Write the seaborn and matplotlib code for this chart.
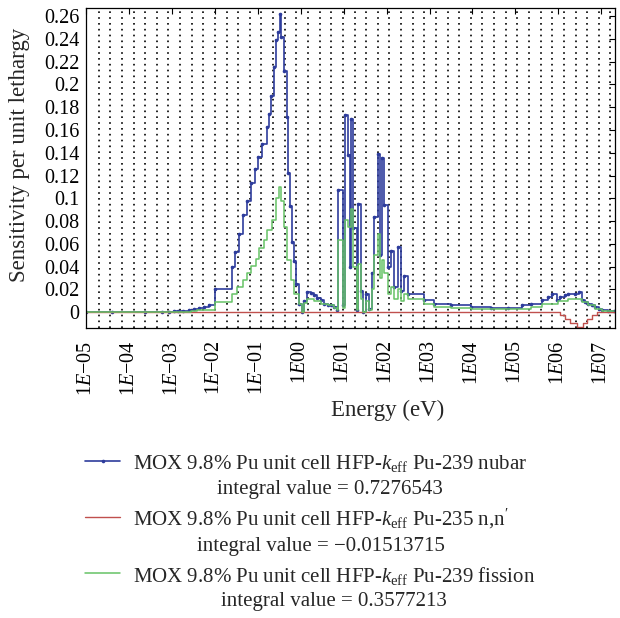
import numpy as np
import matplotlib
matplotlib.use("Agg")
import matplotlib.pyplot as plt
import seaborn as sns
from matplotlib.ticker import FixedLocator, FixedFormatter, NullLocator
from matplotlib.legend_handler import HandlerLine2D

# group lower edges (eV) and sensitivities
nubar_e = [1e-5, 4e-5, 2.4e-4, 5.9e-4, 8.3e-4, 1.1e-3, 1.4e-3, 1.85e-3, 2.5e-3, 3.2e-3,
           4.2e-3, 5.5e-3, 7.2e-3, 1e-2, 0.025, 0.029, 0.036, 0.044, 0.057, 0.068,
           0.084, 0.1, 0.127, 0.16, 0.18, 0.207, 0.24, 0.27, 0.295, 0.323,
           0.354, 0.41, 0.47, 0.50, 0.55, 0.64, 0.70, 0.76, 0.91, 1.05,
           1.17, 1.43, 1.71, 2.04, 2.45, 2.93, 3.5, 4.2, 5.0, 6.0,
           6.9, 7.45, 9.4, 10.8, 12.3, 14.0, 14.7, 16.7, 20.0, 21.8,
           25.1, 27.5, 33.0, 39.5, 44.7, 51.5, 61.7, 71.0, 78.0, 88.0,
           109.0, 126.0, 147.0, 182.0, 217.0, 259.0, 310.0, 760.0, 1280.0, 3200.0,
           9300.0, 27500.0, 67000.0, 1.4e5, 2.35e5, 4.1e5, 5.8e5, 7.3e5, 9.1e5, 1.08e6,
           1.42e6, 1.7e6, 2.4e6, 3.1e6, 3.5e6, 4.2e6, 5.0e6, 6.0e6, 7.1e6, 8.7e6,
           1.02e7, 1.46e7, 2e7]
nubar_v = [0.0, 0.0, 0.0, 0.0003, 0.0005, 0.0008, 0.001, 0.0013, 0.002, 0.0028,
           0.0035, 0.005, 0.0065, 0.0205, 0.040, 0.053, 0.069, 0.085, 0.098, 0.113,
           0.126, 0.136, 0.148, 0.163, 0.174, 0.190, 0.215, 0.239, 0.246, 0.262,
           0.242, 0.212, 0.171, 0.122, 0.093, 0.062, 0.045, 0.025, 0.007, 0.0,
           0.010, 0.018, 0.017, 0.015, 0.0125, 0.0105, 0.0076, 0.0065, 0.006, 0.0047,
           0.002, 0.107, 0.006, 0.173, 0.138, 0.040, 0.170, 0.074, 0.002, 0.095,
           0.019, 0.0, 0.016, 0.003, 0.034, 0.084, 0.139, 0.050, 0.135, 0.094,
           0.040, 0.054, 0.022, 0.057, 0.019, 0.032, 0.016, 0.0105, 0.0076, 0.006,
           0.0047, 0.0035, 0.004, 0.006, 0.007, 0.0105, 0.013, 0.016, 0.011, 0.013,
           0.015, 0.016, 0.016, 0.018, 0.0105, 0.009, 0.0076, 0.006, 0.005, 0.003,
           0.0018, 0.001, 0.001]

nn_e = [1e-5, 1.08e6, 1.42e6, 1.9e6, 2.7e6, 3.8e6, 4.7e6, 6.0e6, 7.8e6, 2e7]
nn_v = [0.0, -0.0026, -0.0064, -0.0099, -0.013, -0.0099, -0.0064, -0.0026, 0.0, 0.0]

fis_e = [1e-5, 2.7e-3, 3.9e-3, 1e-2, 0.025, 0.033, 0.044, 0.057, 0.068, 0.089,
         0.107, 0.138, 0.166, 0.218, 0.26, 0.31, 0.354, 0.41, 0.49, 0.59,
         0.70, 0.91, 1.05, 1.17, 1.43, 2.04, 2.93, 4.3, 5.9, 6.9,
         7.45, 9.4, 10.8, 12.3, 14.7, 16.7, 20.0, 21.8, 25.1, 27.5,
         33.0, 39.5, 44.7, 51.5, 61.7, 71.0, 78.0, 88.0, 109.0, 126.0,
         147.0, 182.0, 217.0, 259.0, 310.0, 760.0, 1280.0, 3200.0, 9300.0, 67000.0,
         2.35e5, 4.1e5, 1e6, 1.7e6, 3.5e6, 5e6, 7.1e6, 1.02e7, 2e7]
fis_v = [0.0, 0.001, 0.002, 0.009, 0.016, 0.022, 0.028, 0.034, 0.041, 0.047,
         0.056, 0.063, 0.072, 0.081, 0.100, 0.110, 0.098, 0.075, 0.046, 0.028,
         0.016, 0.0076, 0.0, 0.008, 0.012, 0.010, 0.0076, 0.006, 0.004, 0.002,
         0.063, 0.004, 0.081, 0.075, 0.091, 0.040, 0.002, 0.042, 0.012, 0.0,
         0.010, 0.002, 0.020, 0.050, 0.069, 0.030, 0.046, 0.034, 0.016, 0.022,
         0.012, 0.020, 0.010, 0.016, 0.012, 0.0076, 0.005, 0.004, 0.003, 0.003,
         0.005, 0.007, 0.010, 0.012, 0.009, 0.006, 0.003, 0.001, 0.001]

decades = [1e-5, 1e-4, 1e-3, 1e-2, 1e-1, 1e0, 1e1, 1e2, 1e3, 1e4, 1e5, 1e6, 1e7]
decade_labels = ["1$\\mathit{E}$\u221205", "1$\\mathit{E}$\u221204", "1$\\mathit{E}$\u221203",
                 "1$\\mathit{E}$\u221202", "1$\\mathit{E}$\u221201", "1$\\mathit{E}$00",
                 "1$\\mathit{E}$01", "1$\\mathit{E}$02", "1$\\mathit{E}$03", "1$\\mathit{E}$04",
                 "1$\\mathit{E}$05", "1$\\mathit{E}$06", "1$\\mathit{E}$07"]
y_ticks = [0, 0.02, 0.04, 0.06, 0.08, 0.1, 0.12, 0.14, 0.16, 0.18, 0.2, 0.22, 0.24, 0.26]

labels = ["MOX 9.8% Pu unit cell HFP-$k_{\\mathrm{eff}}$ Pu-239 nubar\nintegral value = 0.7276543",
          "MOX 9.8% Pu unit cell HFP-$k_{\\mathrm{eff}}$ Pu-235 n,n$'$\nintegral value = \u22120.01513715",
          "MOX 9.8% Pu unit cell HFP-$k_{\\mathrm{eff}}$ Pu-239 fission\nintegral value = 0.3577213"]


class FirstLineHandler(HandlerLine2D):
    # put the legend line level with the first text line
    def create_artists(self, legend, orig_handle, xdescent, ydescent, width, height, fontsize, trans):
        return super().create_artists(legend, orig_handle, xdescent, ydescent - 1.4 * fontsize,
                                      width, height, fontsize, trans)


sns.set_style("white")
plt.rcParams["font.family"] = ["Liberation Serif", "DejaVu Serif"]
plt.rcParams["mathtext.fontset"] = "custom"
plt.rcParams["mathtext.rm"] = "Liberation Serif"
plt.rcParams["mathtext.it"] = "Liberation Serif:italic"
plt.rcParams["axes.unicode_minus"] = True

fig = plt.figure(figsize=(6.2, 6.18), dpi=100)
ax = fig.add_axes([0.139, 0.469, 0.853, 0.518])
ax.set_xscale("log")

# dotted vertical grid, evenly spaced in lethargy
for g in 10 ** np.arange(-4.71, 7.35, 0.271):
    ax.axvline(g, color="black", ls=(0, (1, 2.5)), lw=1.2, zorder=0)

sns.lineplot(x=nubar_e, y=nubar_v, drawstyle="steps-post", color="#2d3c9c", lw=1.2,
             marker="o", ms=2.6, mew=0, estimator=None, sort=False, ax=ax, label=labels[0])
sns.lineplot(x=nn_e, y=nn_v, drawstyle="steps-post", color="#c0504d", lw=1.0,
             estimator=None, sort=False, ax=ax, label=labels[1])
sns.lineplot(x=fis_e, y=fis_v, drawstyle="steps-post", color="#66c266", lw=1.1,
             estimator=None, sort=False, ax=ax, label=labels[2])

ax.set_xlim(1e-5, 2.1e7)
ax.set_ylim(-0.014, 0.267)
ax.xaxis.set_major_locator(FixedLocator(decades))
ax.xaxis.set_major_formatter(FixedFormatter(decade_labels))
ax.xaxis.set_minor_locator(NullLocator())
ax.set_yticks(y_ticks)
ax.set_yticklabels([("%g" % v) for v in y_ticks])
ax.tick_params(axis="both", direction="in", length=4, width=0.8, labelsize=14.5,
               top=True, right=True, colors="black")
ax.tick_params(axis="x", labelrotation=90, pad=9)
ax.tick_params(axis="y", pad=5)
for s in ax.spines.values():
    s.set_color("black")
    s.set_linewidth(0.9)

ax.set_xlabel("Energy (eV)", fontsize=16.5)
ax.set_ylabel("Sensitivity per unit lethargy", fontsize=16.5)
ax.xaxis.set_label_coords(0.57, -0.225)
ax.yaxis.set_label_coords(-0.107, 0.54)

handles, _ = ax.get_legend_handles_labels()
ax.get_legend().remove()
leg = fig.legend(handles, labels, loc="upper center", bbox_to_anchor=(0.5, 0.294),
                 frameon=False, fontsize=15, handlelength=1.7, labelspacing=0.42,
                 handletextpad=0.6, borderpad=0.3,
                 handler_map={h: FirstLineHandler() for h in handles})
for t in leg.get_texts():
    t.set_multialignment("center")
    t.set_linespacing(1.4)

fig.savefig("out.png", dpi=100)
